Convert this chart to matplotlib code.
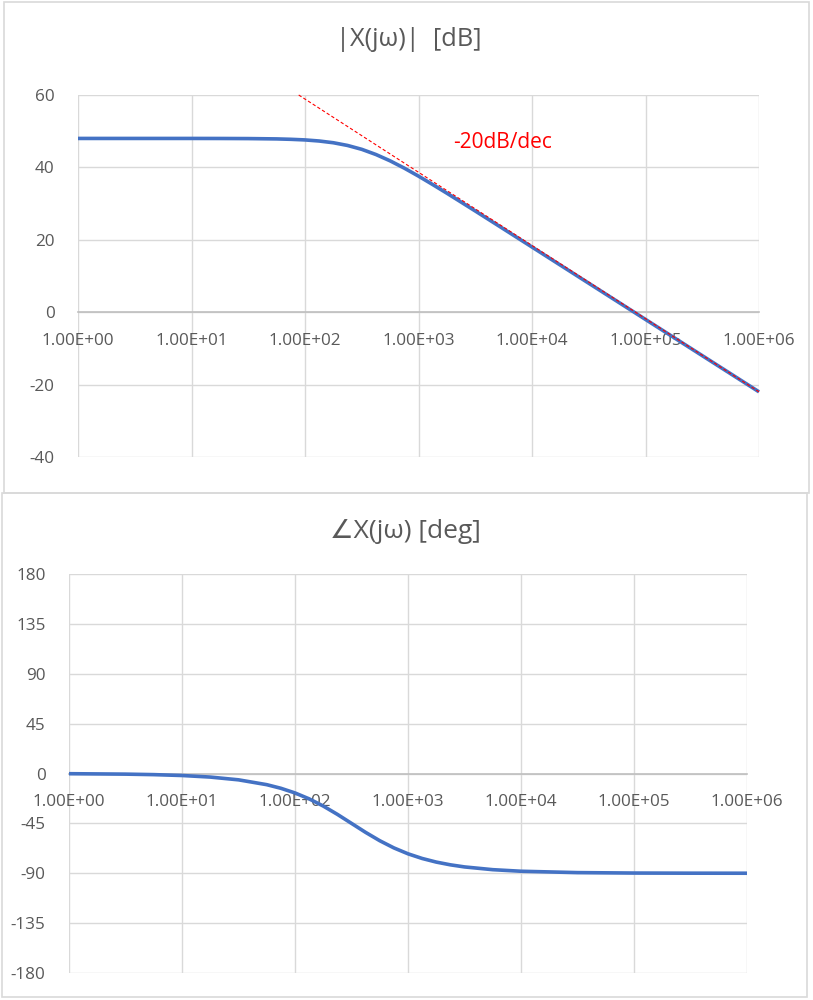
import matplotlib
matplotlib.use("Agg")
import matplotlib.pyplot as plt
from matplotlib.patches import Rectangle
from matplotlib.ticker import FixedLocator, NullLocator

plt.rcParams['font.family'] = ['Open Sans', 'DejaVu Sans']

# ---- data ----
log_w = [0.0, 0.5, 0.75, 1.0, 1.25, 1.5, 1.75, 1.875, 2.0, 2.125, 2.25, 2.375, 2.5,
         2.625, 2.75, 2.875, 3.0, 3.125, 3.25, 3.375, 3.5, 3.75, 4.0, 4.5, 5.0, 5.5, 6.0]
mag_db = [48.0, 48.0, 48.0, 48.0, 47.99, 47.96, 47.87, 47.76, 47.59, 47.29, 46.81, 46.06, 44.99,
          43.56, 41.81, 39.79, 37.59, 35.26, 32.87, 30.42, 27.96, 22.99, 18.0, 8.0, -2.0, -12.0, -22.0]
phase_deg = [-0.18, -0.57, -1.02, -1.81, -3.22, -5.71, -10.08, -13.34, -17.55, -22.87, -29.36, -36.87, -45.0,
             -53.13, -60.64, -67.13, -72.45, -76.66, -79.92, -82.40, -84.29, -86.78, -88.19, -89.43, -89.82, -89.94, -89.98]
freq = [10 ** v for v in log_w]

asym_w = [88.0, 1e6]
asym_db = [60.0, -22.0]

x_ticks = [1e0, 1e1, 1e2, 1e3, 1e4, 1e5, 1e6]
x_tick_labels = ["1.00E+00", "1.00E+01", "1.00E+02", "1.00E+03", "1.00E+04", "1.00E+05", "1.00E+06"]
mag_ticks = [-40, -20, 0, 20, 40, 60]
phase_ticks = [-180, -135, -90, -45, 0, 45, 90, 135, 180]

title_mag = "|X(jω)|  [dB]"
title_phase = "∠X(jω) [deg]"
slope_label = "-20dB/dec"

# ---- figure ----
W, H = 813, 1000
fig = plt.figure(figsize=(W / 100, H / 100), dpi=100)

def box(x0, y0, x1, y1):
    fig.patches.append(Rectangle((x0 / W, 1 - y1 / H), (x1 - x0) / W, (y1 - y0) / H,
                                 transform=fig.transFigure, fill=False,
                                 edgecolor="#d9d9d9", linewidth=1.2, zorder=0))

box(4, 2, 809, 493)
box(2, 493, 807, 997)

TXT = "#595959"
GRID = "#d9d9d9"
BLUE = "#4472C4"

def make_ax(x0, y0, x1, y1):
    return fig.add_axes([x0 / W, 1 - y1 / H, (x1 - x0) / W, (y1 - y0) / H])

def style(ax, yticks, ylim):
    ax.set_xscale('log')
    ax.set_xlim(1, 1e6)
    ax.set_ylim(*ylim)
    ax.xaxis.set_major_locator(FixedLocator(x_ticks))
    ax.xaxis.set_minor_locator(NullLocator())
    ax.set_xticklabels(x_tick_labels)
    ax.set_yticks(yticks)
    ax.set_yticklabels([str(t) for t in yticks])
    for s in ['top', 'right', 'left']:
        ax.spines[s].set_visible(False)
    ax.spines['bottom'].set_position(('data', 0))
    ax.spines['bottom'].set_color("#bfbfbf")
    ax.spines['bottom'].set_linewidth(1.2)
    ax.spines['bottom'].set_zorder(1.5)
    ax.grid(True, color=GRID, linewidth=1.0, zorder=0)
    ax.set_axisbelow(True)
    ax.tick_params(axis='both', length=0, labelcolor=TXT, labelsize=12.3)
    ax.tick_params(axis='x', pad=15)
    ax.tick_params(axis='y', pad=17)
    for lab in ax.get_xticklabels():
        lab.set_clip_on(False)

# magnitude
ax1 = make_ax(78, 95, 759, 457)
style(ax1, mag_ticks, (-40, 60))
ax1.plot(freq, mag_db, color=BLUE, linewidth=2.6, solid_capstyle='butt', zorder=3, clip_on=False)
ax1.plot(asym_w, asym_db, color="#ff0000", linewidth=0.8, linestyle=(0, (3, 2)), zorder=4, clip_on=False)
ax1.text(2.0e3, 47.0, slope_label, color="#ff0000", fontsize=15, ha='left', va='center')
fig.text(409 / W, 1 - 39 / H, title_mag, color=TXT, fontsize=18.3, ha='center', va='center')

# phase
ax2 = make_ax(69, 574, 747, 973)
style(ax2, phase_ticks, (-180, 180))
ax2.plot(freq, phase_deg, color=BLUE, linewidth=2.6, solid_capstyle='butt', zorder=3, clip_on=False)
fig.text(405 / W, 1 - 532 / H, title_phase, color=TXT, fontsize=19, ha='center', va='center')

fig.savefig("out.png", dpi=100)
